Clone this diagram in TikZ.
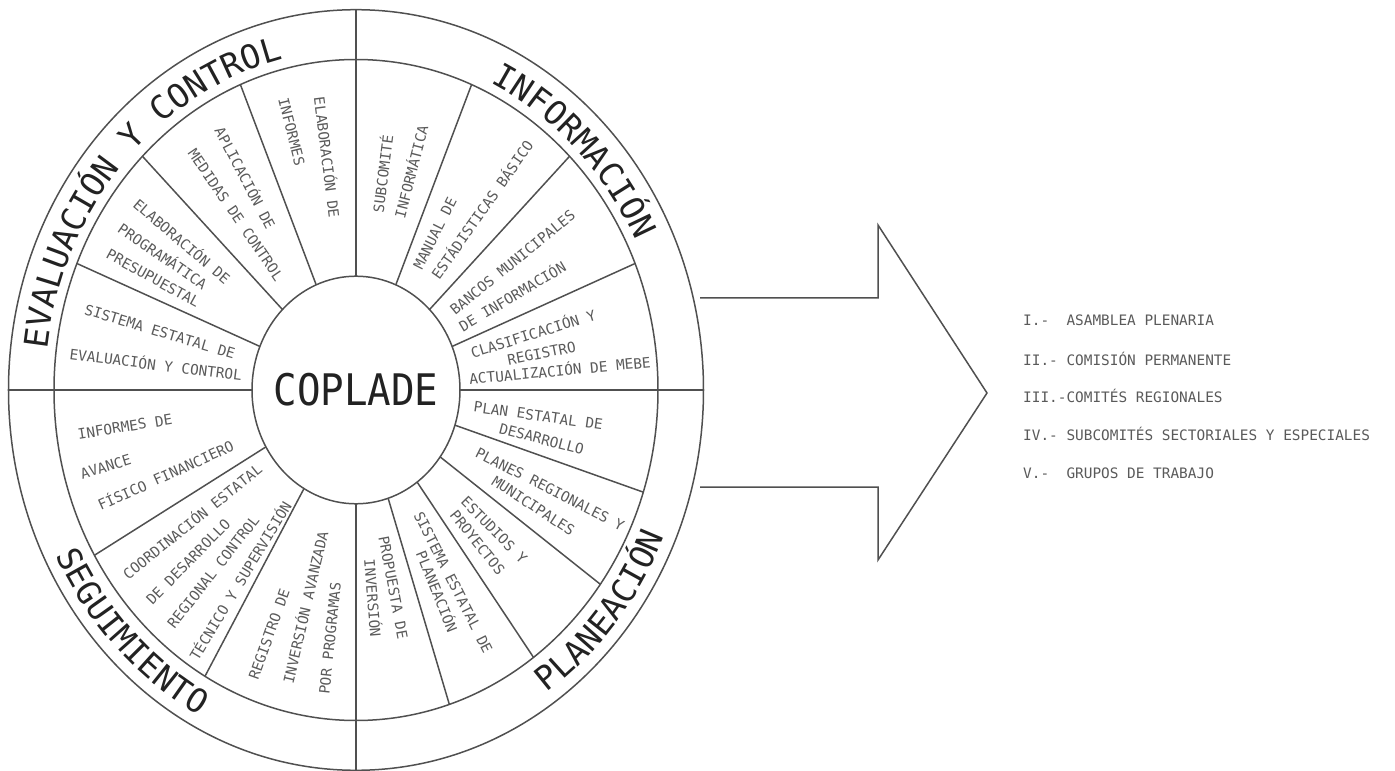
\documentclass[tikz,border=0pt]{standalone}
\usepackage{fontspec}
\usetikzlibrary{decorations.text}
\newfontfamily\wheelfont{DejaVu Sans Mono}
\newfontfamily\coplfont[FakeStretch=0.9]{DejaVu Sans Mono}
\definecolor{linegray}{HTML}{505050}
\definecolor{textgray}{HTML}{5A5A5A}
\definecolor{labelgray}{HTML}{222222}

\begin{document}
\begin{tikzpicture}[x=1pt, y=1pt,
    ln/.style={draw=linegray, line width=1.5pt},
    wtxt/.style={font=\wheelfont\fontsize{14.4}{17}\selectfont, text=textgray,
        inner sep=0pt, text height=10.5pt, text depth=0pt},
    item/.style={wtxt, anchor=west},
    qlab/.style={decorate, decoration={text along path, text align=center,
        text color=labelgray, text={|\wheelfont\fontsize{33}{37}\selectfont|#1}}}
]
    \useasboundingbox (-356,-381) rectangle (1039,390);

    % rings
    \draw[ln] (0,0) ellipse [x radius=347.5pt, y radius=380.3pt];
    \draw[ln] (0,0) ellipse [x radius=302pt, y radius=330.5pt];
    \draw[ln] (0,0) ellipse [x radius=104pt, y radius=113.8pt];

    % quadrant lines and sector lines
    \foreach \a in {0,90,180,270}
        \draw[ln] (\a:104pt and 113.8pt) -- (\a:347.5pt and 380.3pt);
    \foreach \a in {22.5,45,67.5,112.5,135,157.5,210,240,-18,-36,-54,-72}
        \draw[ln] (\a:104pt and 113.8pt) -- (\a:302pt and 330.5pt);

    \node[font=\coplfont\fontsize{43.5}{50}\selectfont, text=labelgray,
        inner sep=0pt] (coplade) at (0,0) {COPLADE};

    % quadrant labels
    \path[qlab=EVALUACIÓN Y CONTROL] (180:311pt and 340.5pt)
        arc[start angle=180, end angle=96, x radius=311pt, y radius=340.5pt];
    \path[qlab=INFORMACIÓN] (86:311pt and 340.5pt)
        arc[start angle=86, end angle=6, x radius=311pt, y radius=340.5pt];
    \path[qlab=PLANEACIÓN] (-75:336pt and 368pt)
        arc[start angle=-75, end angle=-5, x radius=336pt, y radius=368pt];
    \path[qlab=SEGUIMIENTO] (190:336pt and 368pt)
        arc[start angle=190, end angle=260, x radius=336pt, y radius=368pt];

    % sector texts, each line along its own radius
    \foreach \n/\x/\y/\txt in {
        ev1a/-29.3/232.5/ELABORACIÓN DE,
        ev1b/-64.3/258.3/INFORMES,
        ev2a/-111/211.7/APLICACIÓN DE,
        ev2b/-120.2/175/MEDIDAS DE CONTROL,
        ev3a/-174.3/148.3/ELABORACIÓN DE,
        ev3b/-193.5/133.3/PROGRAMÁTICA,
        ev3c/-202.7/111.7/PRESUPUESTAL,
        ev4a/-196/58.3/SISTEMA ESTATAL DE,
        ev4b/-200.2/25/EVALUACIÓN Y CONTROL,
        in1a/27.3/216/SUBCOMITÉ,
        in1b/55.7/218.3/INFORMÁTICA,
        in2a/79/156.7/MANUAL DE,
        in2b/126.5/180/ESTÁDISTICAS BÁSICO,
        in3a/156.5/127.5/BANCOS MUNICIPALES,
        in3b/156.5/93.3/DE INFORMACIÓN,
        in4a/177.3/56/CLASIFICACIÓN Y,
        in4b/185.7/36.7/REGISTRO,
        in4c/204/19.2/ACTUALIZACIÓN DE MEBE,
        pl1a/182.3/-25.8/PLAN ESTATAL DE,
        pl1b/185.7/-49/DESARROLLO,
        pl2a/194/-99/PLANES REGIONALES Y,
        pl2b/177.3/-115.8/MUNICIPALES,
        pl3a/138.2/-140/ESTUDIOS Y,
        pl3b/121.5/-152.5/PROYECTOS,
        pl4a/97.3/-192.5/SISTEMA ESTATAL DE,
        pl4b/80.7/-201.7/PLANEACIÓN,
        pl5a/37.3/-197.5/PROPUESTA DE,
        pl5b/16.5/-208.3/INVERSIÓN,
        se1a/-231/-36.7/INFORMES DE,
        se1b/-250.2/-76.7/AVANCE,
        se1c/-190.2/-85.8/FÍSICO FINANCIERO,
        se2a/-163.5/-131.7/COORDINACIÓN ESTATAL,
        se2b/-167.7/-171.7/DE DESARROLLO,
        se2c/-142.7/-181.7/REGIONAL CONTROL,
        se2d/-115.2/-190.8/TÉCNICO Y SUPERVISIÓN,
        se3a/-86.8/-244/REGISTRO DE,
        se3b/-50.2/-217.5/INVERSIÓN AVANZADA,
        se3c/-26/-248.3/POR PROGRAMAS}
        \node[wtxt, rotate={atan2(\y,\x)+180*(\x<0)}] (\n) at (\x,\y) {\txt};

    % arrow
    \draw[ln, line join=miter] (344,92) -- (522,92) -- (522,165) -- (631,-3)
        -- (522,-170) -- (522,-97) -- (344,-97);

    % list
    \node[item] (org1) at (667,70) {I.-~~ASAMBLEA PLENARIA};
    \node[item] (org2) at (667,30) {II.-~COMISIÓN PERMANENTE};
    \node[item] (org3) at (667,-7) {III.-COMITÉS REGIONALES};
    \node[item] (org4) at (667,-45) {IV.-~SUBCOMITÉS SECTORIALES Y ESPECIALES};
    \node[item] (org5) at (667,-83) {V.-~~GRUPOS DE TRABAJO};
\end{tikzpicture}
\end{document}
